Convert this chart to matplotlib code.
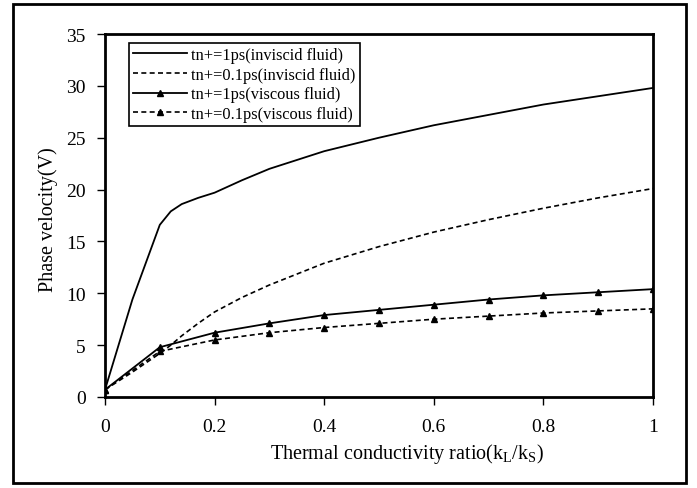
import matplotlib
matplotlib.use('Agg')
import matplotlib.pyplot as plt
from matplotlib.patches import Rectangle

plt.rcParams['font.family'] = ['Liberation Serif', 'DejaVu Serif']

# inviscid fluid curves (extra points near the knee)
x_inv = [0, 0.05, 0.1, 0.12, 0.14, 0.17, 0.2, 0.25, 0.3, 0.4, 0.5, 0.6, 0.7, 0.8, 0.9, 1.0]
v_inv_1ps = [0.7, 9.4, 16.6, 17.9, 18.6, 19.2, 19.7, 20.9, 22.0, 23.7, 25.0, 26.2, 27.2, 28.2, 29.0, 29.8]
v_inv_01ps = [0.7, 2.4, 4.2, 5.0, 5.9, 7.1, 8.2, 9.6, 10.8, 12.9, 14.5, 15.9, 17.1, 18.2, 19.2, 20.1]

# viscous fluid curves (marked points)
x_vis = [0, 0.1, 0.2, 0.3, 0.4, 0.5, 0.6, 0.7, 0.8, 0.9, 1.0]
v_vis_1ps = [0.7, 4.8, 6.2, 7.1, 7.9, 8.4, 8.9, 9.4, 9.8, 10.1, 10.4]
v_vis_01ps = [0.7, 4.4, 5.5, 6.2, 6.7, 7.1, 7.5, 7.8, 8.1, 8.3, 8.5]

labels = ['tn+=1ps(inviscid fluid)', 'tn+=0.1ps(inviscid fluid)',
          'tn+=1ps(viscous fluid)', 'tn+=0.1ps(viscous fluid)']

fig = plt.figure(figsize=(6.97, 4.89), dpi=100)
ax = fig.add_axes([105/697, 1 - 398/489, 548/697, 363/489])

dash = (0, (3, 2))
ax.plot(x_inv, v_inv_1ps, color='black', lw=1.3, label=labels[0])
ax.plot(x_inv, v_inv_01ps, color='black', lw=1.2, ls=dash, label=labels[1])
ax.plot(x_vis, v_vis_1ps, color='black', lw=1.3, marker='^', ms=4.5, label=labels[2])
ax.plot(x_vis, v_vis_01ps, color='black', lw=1.2, ls=dash, marker='^', ms=4.5, label=labels[3])

ax.set_xlim(0, 1)
ax.set_ylim(0, 35)
ax.set_xticks([0, 0.2, 0.4, 0.6, 0.8, 1])
ax.set_xticklabels(['0', '0.2', '0.4', '0.6', '0.8', '1'])
ax.set_yticks(range(0, 36, 5))
ax.tick_params(direction='out', length=6, width=1, labelsize=14,
               top=False, right=False)
ax.tick_params(axis='x', pad=9)
ax.tick_params(axis='y', pad=8)
for s in ax.spines.values():
    s.set_linewidth(2)

ax.set_xlabel('Thermal conductivity ratio(k$_\\mathregular{L}$/k$_\\mathregular{S}$)', fontsize=14.5)
ax.xaxis.set_label_coords(0.551, -(454 - 398) / 363, transform=ax.transAxes)
ax.xaxis.label.set_va('center')
ax.set_ylabel('Phase velocity(V)', fontsize=14.5)
ax.yaxis.set_label_coords(-(105 - 48) / 548, (398 - 220) / 363)
ax.yaxis.label.set_va('center')

leg = ax.legend(loc='upper left', bbox_to_anchor=((129 - 105) / 548, (398 - 44) / 363),
                fontsize=11.8, frameon=True, fancybox=False, edgecolor='black', framealpha=1,
                handlelength=3.3, handletextpad=0.25, labelspacing=0.22,
                borderpad=0.25, borderaxespad=0)
leg.get_frame().set_linewidth(1.2)

# outer border around the whole chart
fig.patches.append(Rectangle((13/697, 5/489), 673/697, 479/489, transform=fig.transFigure,
                             fill=False, edgecolor='black', lw=2))

fig.savefig('out.png', dpi=100)
